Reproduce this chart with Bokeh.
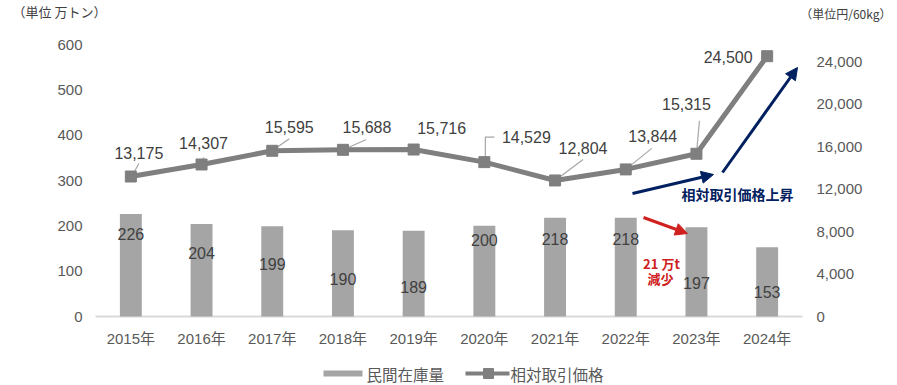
from bokeh.plotting import figure
from bokeh.models import (Range1d, LinearAxis, CategoricalAxis, FactorRange, Arrow,
                          NormalHead, Label, FixedTicker, NumeralTickFormatter,
                          ColumnDataSource)
from bokeh.embed import file_html
from bokeh.resources import INLINE
from bokeh.core.properties import value

# ---------------- data ----------------
years = ["2015年", "2016年", "2017年", "2018年", "2019年",
         "2020年", "2021年", "2022年", "2023年", "2024年"]
stock = [226, 204, 199, 190, 189, 200, 218, 218, 197, 153]          # 民間在庫量 (万トン)
price = [13175, 14307, 15595, 15688, 15716, 14529, 12804, 13844, 15315, 24500]  # 相対取引価格 (円/60kg)
left_ticks = [0, 100, 200, 300, 400, 500, 600]
right_ticks = [0, 4000, 8000, 12000, 16000, 20000, 24000]
series_names = ["民間在庫量", "相対取引価格"]
unit_left = "（単位 万トン）"
unit_right = "（単位円/60kg）"

# ---------------- layout (page pixels) ----------------
FONT = "'Liberation Sans', 'Noto Sans CJK JP', sans-serif"
CJK = "'Noto Sans CJK JP', 'Liberation Sans', sans-serif"
W, H = 897, 385
PLOT_L, PLOT_T = 95, 44          # plot area corners in page px
PLOT_W, PLOT_H = 707, 272
PLOT_B = PLOT_T + PLOT_H
STOCK_MAX, PRICE_MAX = 600, 25600
N = len(years)
CAT_PX = PLOT_W / N

def px_x(px):
    return (px - PLOT_L) / CAT_PX

def px_y(py, vmax=STOCK_MAX):
    return (PLOT_B - py) * vmax / PLOT_H

# bar label vertical positions (left-axis units)
bar_label_y = [183, 141, 115, 82, 64, 168, 172, 172, 75, 53]
# price label offsets (px, y down)
lab_dx = [8, 2, 17, 24, 28, 42, 28, 27, -10, -39]
lab_dy = [-24, -21, -24, -23, -22, -25, -32, -33, -50, 1]
# leader lines as px offsets from point (y down)
leaders = {
    0: [(2, -2), (8, -13)],
    1: [(1, -2), (2, -7)],
    2: [(0, 0), (17, -12)],
    3: [(0, 0), (23, -10)],
    5: [(1, 0), (1, -25), (10, -25)],
    6: [(0, 0), (28, -21)],
    7: [(0, 0), (26, -21)],
    8: [(0, 0), (3, -33)],
}

xr = FactorRange(*years, range_padding=PLOT_L / CAT_PX, range_padding_units="absolute")
p = figure(width=W, height=H, x_range=xr,
           y_range=Range1d(px_y(H), px_y(0)), output_backend="svg",
           toolbar_location=None, title=None,
           x_axis_location=None, y_axis_location=None,
           min_border=0, outline_line_color=None, background_fill_color="white")
p.extra_y_ranges = {"price": Range1d(px_y(H, PRICE_MAX), px_y(0, PRICE_MAX))}
p.xgrid.visible = False
p.ygrid.visible = False

ya = LinearAxis(fixed_location=0, ticker=FixedTicker(ticks=left_ticks))
ra = LinearAxis(y_range_name="price", fixed_location=N,
                ticker=FixedTicker(ticks=right_ticks),
                formatter=NumeralTickFormatter(format="0,0"))
xa = CategoricalAxis(fixed_location=0)
p.add_layout(ya, "left")
p.add_layout(ra, "right")
p.add_layout(xa, "below")
for ax, standoff in [(ya, 13), (ra, 14), (xa, 13)]:
    ax.axis_line_color = None
    ax.major_tick_line_color = None
    ax.major_tick_out = 0
    ax.major_tick_in = 0
    ax.minor_tick_line_color = None
    ax.major_label_text_font = FONT
    ax.major_label_text_font_size = "15px"
    ax.major_label_text_color = "#595959"
    ax.major_label_standoff = standoff

# category axis base line
p.segment(x0=[0], y0=[0], x1=[N], y1=[0], line_color="#d9d9d9", line_width=2)

# bars
src = ColumnDataSource(dict(x=years, stock=stock, ly=bar_label_y,
                            lab=[str(v) for v in stock]))
p.vbar(x="x", top="stock", width=0.31, source=src,
       fill_color="#a5a5a5", line_color=None)
p.text(x="x", y="ly", text="lab", source=src, text_align="center",
       text_baseline="middle", text_font=value(FONT),
       text_font_size="16px", text_color="#404040")

# leader lines
lx, ly = [], []
for i, pts in leaders.items():
    lx.append([i + 0.5 + dx / CAT_PX for dx, dy in pts])
    ly.append([price[i] - dy * PRICE_MAX / PLOT_H for dx, dy in pts])
p.multi_line(lx, ly, line_color="#a6a6a6", line_width=1.2, y_range_name="price")

# price line
psrc = ColumnDataSource(dict(x=years, price=price, dx=lab_dx, dy=lab_dy,
                             lab=[f"{v:,}" for v in price]))
p.line(x="x", y="price", source=psrc, line_color="#7f7f7f",
       line_width=5, y_range_name="price")
p.scatter(x="x", y="price", source=psrc, marker="square", size=11,
          fill_color="#7f7f7f", line_color="#7f7f7f", y_range_name="price")
p.text(x="x", y="price", text="lab", source=psrc, x_offset="dx", y_offset="dy",
       text_align="center", text_baseline="middle", text_font=value(FONT),
       text_font_size="16px", text_color="#404040", y_range_name="price")

# arrows
navy = "#002060"
red = "#d02020"
for (x0, y0, x1, y1, c) in [(632, 193, 713, 174, navy),
                            (722, 172, 797, 67, navy),
                            (643, 217, 687, 233, red)]:
    p.add_layout(Arrow(end=NormalHead(size=12, fill_color=c, line_color=c),
                       x_start=px_x(x0), y_start=px_y(y0),
                       x_end=px_x(x1), y_end=px_y(y1),
                       line_color=c, line_width=3))

def add_label(text, px, py, size, color, bold=False, align="center", font=CJK):
    p.add_layout(Label(x=px, y=H - py, x_units="screen", y_units="screen",
                       text=text, text_align=align, text_baseline="middle",
                       text_font=font, text_font_size=size, text_color=color,
                       text_font_style="bold" if bold else "normal"))

add_label("相対取引価格上昇", 737, 193, "14px", navy, bold=True)
add_label("21 万t", 661, 263, "13px", red, bold=True)
add_label("減少", 660, 278, "13px", red, bold=True)

# unit labels
add_label(unit_left, 12, 11, "13px", "#404040", align="left")
add_label(unit_right, 891, 13, "12px", "#404040", align="right")

# legend
LEG_Y = 373
p.quad(left=[px_x(323)], right=[px_x(362)], top=[px_y(LEG_Y - 3)], bottom=[px_y(LEG_Y + 3)],
       fill_color="#a5a5a5", line_color=None)
add_label(series_names[0], 366, LEG_Y, "15.5px", "#595959", align="left")
p.line(x=[px_x(465), px_x(509)], y=[px_y(LEG_Y)] * 2, line_color="#7f7f7f", line_width=4)
p.scatter(x=[px_x(488)], y=[px_y(LEG_Y)], marker="square", size=10,
          fill_color="#7f7f7f", line_color="#7f7f7f")
add_label(series_names[1], 510, LEG_Y, "15.5px", "#595959", align="left")

open("out.html", "w").write(file_html(p, INLINE))
